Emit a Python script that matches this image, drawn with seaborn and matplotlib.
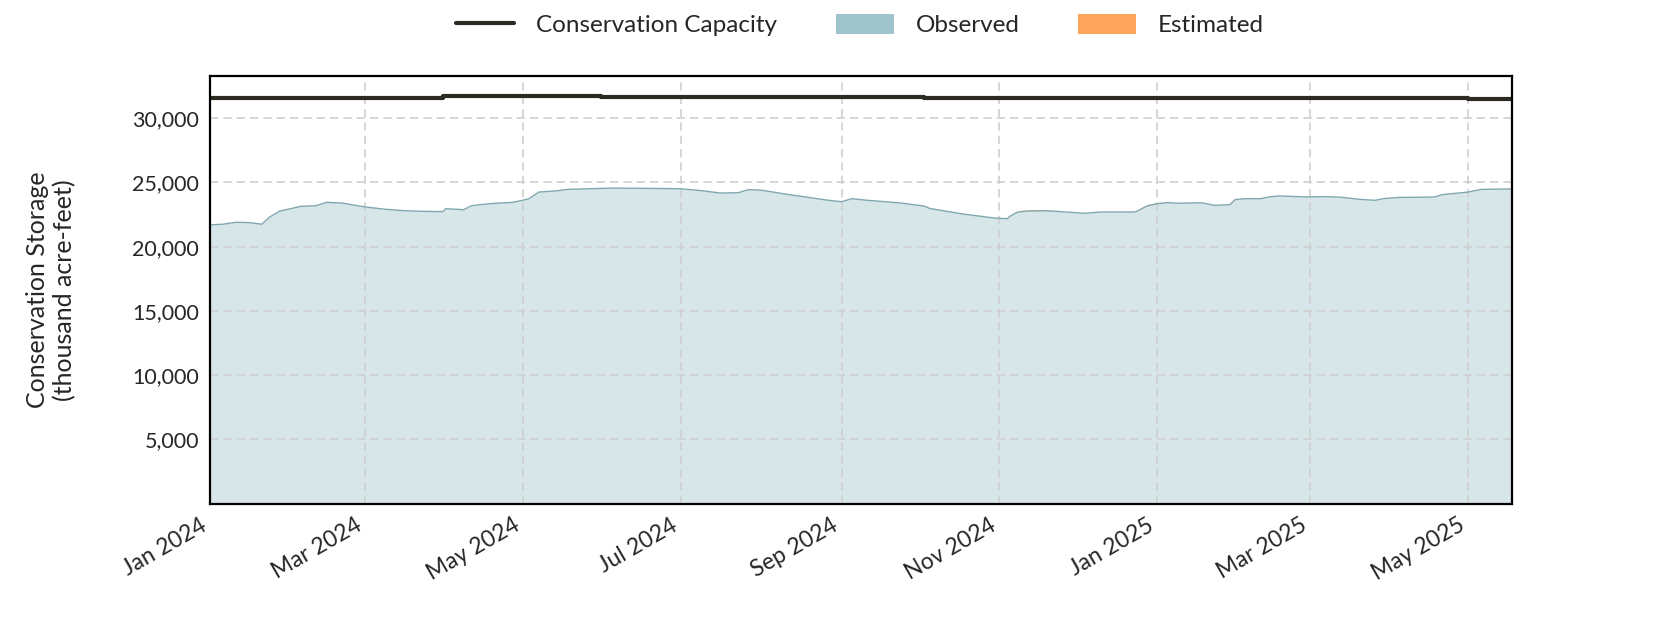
import pandas as pd
import numpy as np
import matplotlib
matplotlib.use("Agg")
import matplotlib.pyplot as plt
import matplotlib.dates as mdates
from matplotlib.lines import Line2D
from matplotlib.patches import Patch
from matplotlib.ticker import FuncFormatter
import seaborn as sns

sns.set_style("white")
plt.rcParams['font.family'] = ['Lato', 'DejaVu Sans']

# observed storage (thousand acre-feet)
obs_dates = ['2024-01-01', '2024-01-06', '2024-01-11', '2024-01-16', '2024-01-21', '2024-01-24',
             '2024-01-28', '2024-02-01', '2024-02-05', '2024-02-11', '2024-02-15', '2024-02-21',
             '2024-03-01', '2024-03-08', '2024-03-16', '2024-03-24', '2024-03-31', '2024-04-01',
             '2024-04-08', '2024-04-11', '2024-04-18', '2024-04-27', '2024-05-03', '2024-05-07',
             '2024-05-14', '2024-05-18', '2024-06-04', '2024-06-19', '2024-07-01', '2024-07-09',
             '2024-07-16', '2024-07-23', '2024-07-27', '2024-08-01', '2024-08-11', '2024-08-27',
             '2024-09-01', '2024-09-05', '2024-09-11', '2024-09-24', '2024-10-03', '2024-10-05',
             '2024-10-17', '2024-10-30', '2024-11-04', '2024-11-05', '2024-11-08', '2024-11-12',
             '2024-11-19', '2024-12-04', '2024-12-10', '2024-12-23', '2024-12-24', '2024-12-28',
             '2025-01-01', '2025-01-05', '2025-01-09', '2025-01-18', '2025-01-23', '2025-01-29',
             '2025-01-31', '2025-02-04', '2025-02-10', '2025-02-13', '2025-02-17', '2025-02-28',
             '2025-03-06', '2025-03-13', '2025-03-20', '2025-03-26', '2025-03-30', '2025-04-05',
             '2025-04-13', '2025-04-18', '2025-04-21', '2025-05-01', '2025-05-06', '2025-05-18']
obs_values = [21700, 21750, 21900, 21880, 21750, 22300,
              22780, 22950, 23140, 23190, 23450, 23400,
              23090, 22930, 22800, 22750, 22730, 22960,
              22880, 23190, 23350, 23450, 23710, 24250,
              24350, 24460, 24560, 24540, 24510, 24360,
              24180, 24200, 24440, 24400, 24075, 23610,
              23500, 23740, 23610, 23400, 23160, 22980,
              22570, 22230, 22180, 22360, 22700, 22780,
              22800, 22600, 22700, 22700, 22750, 23170,
              23350, 23430, 23380, 23420, 23220, 23270,
              23660, 23740, 23740, 23870, 23950, 23870,
              23900, 23850, 23690, 23610, 23760, 23840,
              23850, 23870, 24050, 24250, 24460, 24500]

# estimated storage, two short stretches where it peeks out above the observed fill
est1_dates = ['2024-11-07', '2024-11-09', '2024-11-13', '2024-11-19', '2024-11-22']
est1_values = [22660, 22830, 22900, 22900, 22800]
est2_dates = ['2024-12-25', '2024-12-28', '2025-01-01', '2025-01-03']
est2_values = [22820, 23300, 23450, 23460]

# conservation capacity (step changes)
cap_dates = ['2024-01-01', '2024-03-31', '2024-05-31', '2024-10-03', '2025-05-01', '2025-05-18']
cap_values = [31600, 31750, 31680, 31540, 31490, 31490]

obs = pd.DataFrame({'date': pd.to_datetime(obs_dates), 'storage': obs_values})
cap = pd.DataFrame({'date': pd.to_datetime(cap_dates), 'capacity': cap_values})
est_parts = [pd.DataFrame({'date': pd.to_datetime(d), 'storage': v})
             for d, v in [(est1_dates, est1_values), (est2_dates, est2_values)]]

obs_color = '#9fc4cc'
est_color = '#ffa65c'
cap_color = '#2d2a22'

fig = plt.figure(figsize=(16.8, 6.3), dpi=100)
ax = fig.add_axes([0.125, 0.2006, 0.775, 0.678])

ax.grid(True, color='#cfcfcf', linestyle=(0, (5, 3)), linewidth=1.2, zorder=0.6)
ax.set_axisbelow(True)

# estimated first (pale orange), observed on top (opaque pale blue)
for part in est_parts:
    ax.fill_between(part['date'], 0, part['storage'], color='#f9d8bb', linewidth=0, zorder=0.2)
ax.fill_between(obs['date'], 0, obs['storage'], color='#d7e6e9', linewidth=0, zorder=0.3)
sns.lineplot(data=obs, x='date', y='storage', ax=ax, color='#80a7af',
             linewidth=1.0, estimator=None)
sns.lineplot(data=cap, x='date', y='capacity', ax=ax, color=cap_color,
             linewidth=3, estimator=None, drawstyle='steps-post')

ax.set_xlim(pd.Timestamp('2024-01-01'), pd.Timestamp('2025-05-18'))
ax.set_ylim(0, 33250)
ax.set_yticks([5000, 10000, 15000, 20000, 25000, 30000])
ax.yaxis.set_major_formatter(FuncFormatter(lambda v, p: f'{int(v):,}'))
ax.xaxis.set_major_locator(mdates.MonthLocator(bymonth=[1, 3, 5, 7, 9, 11]))
ax.xaxis.set_major_formatter(mdates.DateFormatter('%b %Y'))
ax.tick_params(axis='y', length=0, labelsize=15.5, pad=8)
ax.tick_params(axis='x', length=0, labelsize=16.5, pad=8)
for lab in ax.get_xticklabels():
    lab.set_rotation(30)
    lab.set_ha('right')

ax.set_xlabel('')
ax.set_ylabel('Conservation Storage\n(thousand acre-feet)', fontsize=18, labelpad=40)

for s in ax.spines.values():
    s.set_visible(True)
    s.set_color('black')
    s.set_linewidth(1.6)

handles = [Line2D([0], [0], color=cap_color, linewidth=3),
           Patch(facecolor=obs_color, edgecolor='none'),
           Patch(facecolor=est_color, edgecolor='none')]
labels = ['Conservation Capacity', 'Observed', 'Estimated']
fig.legend(handles, labels, loc='center', bbox_to_anchor=(0.512, 0.96), ncol=3,
           frameon=False, fontsize=17.5, handlelength=2.4, handleheight=0.9,
           columnspacing=2.4, handletextpad=0.9)

fig.savefig('out.png', dpi=100)
